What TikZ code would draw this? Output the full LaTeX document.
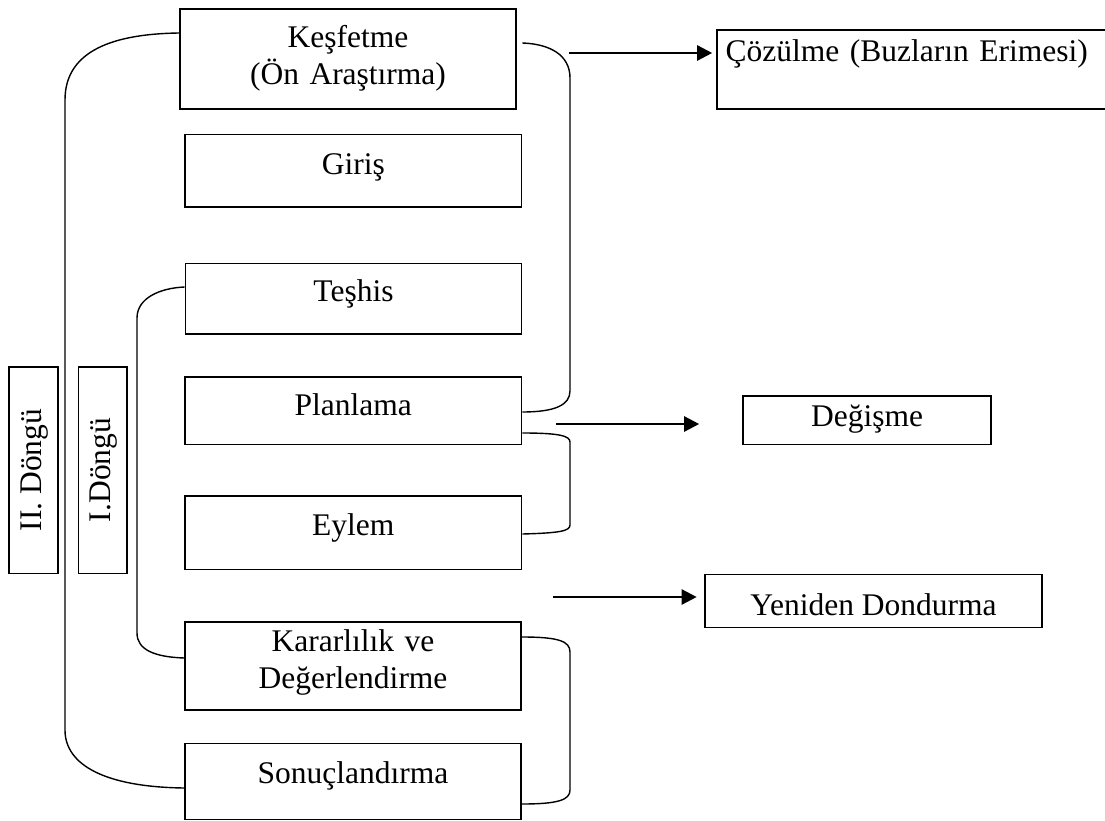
\documentclass[tikz,border=0pt]{standalone}
\usepackage{fontspec}
\setmainfont{Liberation Serif}
\usetikzlibrary{arrows.meta,calc}
\tikzset{
  stage/.style={draw, line width=1.6pt, inner sep=0pt, align=center,
    font=\fontsize{31.5}{37}\selectfont},
  loopbox/.style={stage, rotate=90},
  brace/.style={line width=1.4pt},
  flow/.style={line width=2.4pt, -{Triangle[length=15pt,width=15pt]}},
}
\begin{document}
\begin{tikzpicture}[x=1pt, y=-1pt]
\useasboundingbox (0,0) rectangle (1105,821);

% stages of the process
\node[stage, text width=336pt, text height=38.7pt, text depth=61.3pt] (kes) at (348,59)
  {Keşfetme\\(Ön Araştırma)};
\node[stage, minimum width=336.5pt, text height=40.3pt, text depth=32.3pt] (giris) at (353.3,171) {Giriş};
\node[stage, minimum width=336pt, text height=38.4pt, text depth=32.3pt] (teshis) at (353.5,298.7) {Teşhis};
\node[stage, minimum width=336.5pt, text height=38.3pt, text depth=29.3pt] (plan) at (353.3,410.5) {Planlama};
\node[stage, minimum width=336.5pt, text height=39pt, text depth=34.3pt] (eylem) at (353.3,532.7) {Eylem};
\node[stage, text width=336pt, text height=30pt, text depth=58.3pt] (karar) at (353,665.9)
  {Kararlılık ve\\Değerlendirme};
\node[stage, minimum width=336pt, text height=40pt, text depth=36pt] (sonuc) at (353,781.3) {Sonuçlandırma};

% phases of change
\node[stage, align=left, inner xsep=8.7pt, text width=377.6pt, text height=31.7pt, text depth=47.6pt]
  (cozul) at (914.5,69.65) {Çözülme (Buzların Erimesi)};
\node[stage, minimum width=248pt, text height=30.7pt, text depth=17.6pt] (degis) at (867,420.2) {Değişme};
\node[stage, minimum width=337pt, text height=40.7pt, text depth=12.3pt] (yeni) at (873.5,600.8) {Yeniden Dondurma};

% cycle labels
\node[loopbox, minimum width=206.6pt, text height=32.7pt, text depth=16.6pt] (dII) at (33.6,470) {II. Döngü};
\node[loopbox, minimum width=206.6pt, text height=31.7pt, text depth=16.7pt] (dI) at (102.5,470) {I.Döngü};

% second cycle bracket
\draw[brace] (kes.west |- 0,33) .. controls (105,34) and (65,55) .. (65,100)
  -- (65,730) .. controls (65,765) and (105,787) .. (sonuc.west |- 0,788);
% first cycle bracket
\draw[brace] (teshis.west |- 0,287) .. controls (160,288) and (137,298) .. (137,318)
  -- (137,633) .. controls (137,650) and (155,657) .. (karar.west |- 0,658);

% right-hand brackets
\draw[brace] (plan.east |- 0,43) .. controls (550,44) and (570,55) .. (570,78)
  -- (570,391) .. controls (570,405) and (555,412) .. (plan.east |- 0,412);
\draw[brace] (plan.east |- 0,433) .. controls (560,433) and (570,436) .. (570,442)
  -- (570,525) .. controls (570,531) and (560,533) .. (eylem.east |- 0,534);
\draw[brace] (karar.east |- 0,637) .. controls (558,637) and (570,641) .. (570,652)
  -- (570,790) .. controls (570,800) and (558,804) .. (sonuc.east |- 0,804);

% arrows to the phases
\coordinate (a1) at (569,53);
\coordinate (a2) at (556,424);
\coordinate (a3) at (553,597);
\draw[flow, shorten >=4pt] (a1) -- (a1 -| cozul.west);
\draw[flow, shorten >=43pt] (a2) -- (a2 -| degis.west);
\draw[flow, shorten >=7.5pt] (a3) -- (a3 -| yeni.west);
\end{tikzpicture}
\end{document}
